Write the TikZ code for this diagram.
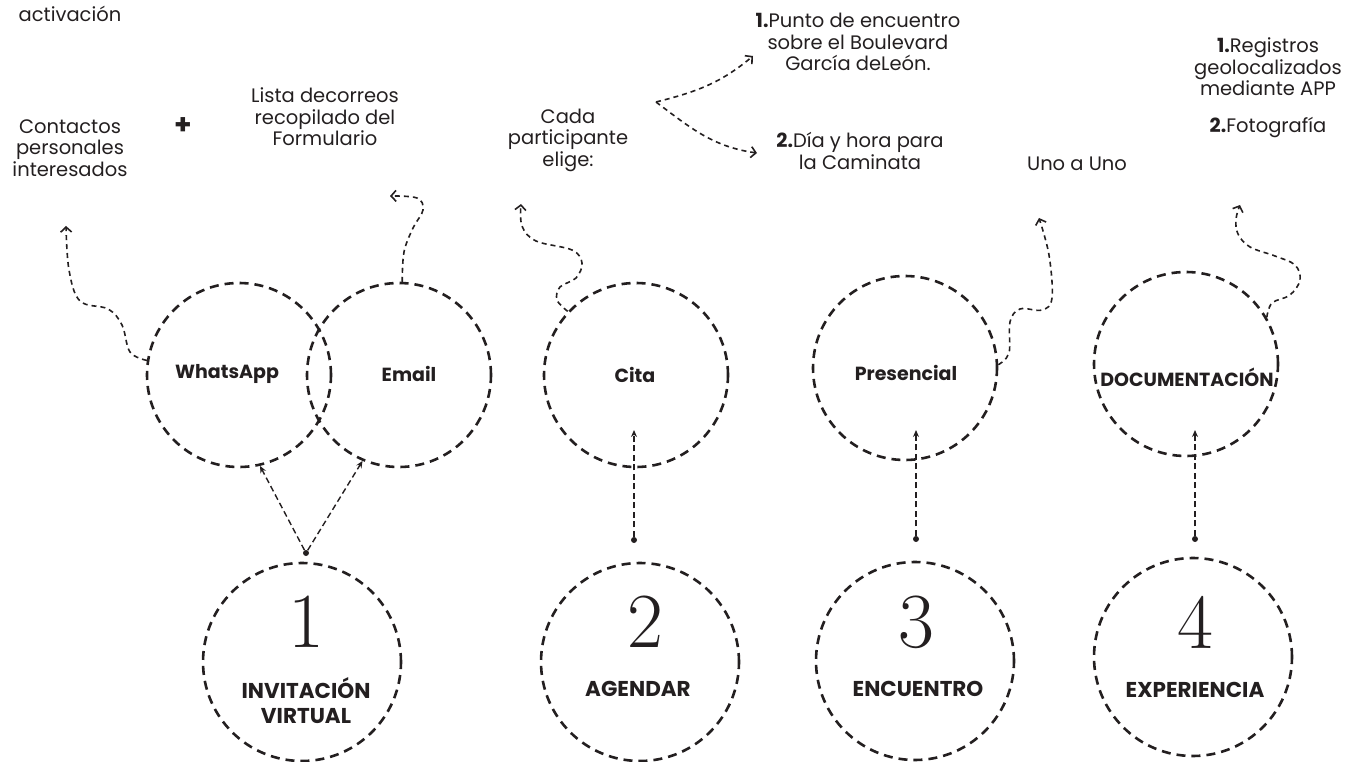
\documentclass[tikz,border=0pt]{standalone}
\usepackage{fontspec}
\setmainfont{Poppins}
\newfontfamily\numfont{Latin Modern Roman}
\usetikzlibrary{arrows.meta}
\definecolor{ink}{HTML}{231F20}

\begin{document}
\begin{tikzpicture}[
    x=1pt, y=-1pt,
    >=Stealth,
    every node/.style={text=ink, font=\fontsize{19.5}{21.5}\selectfont, align=center, inner sep=0pt},
    ring/.style={circle, draw=ink, line width=2.6pt, dash pattern=on 9pt off 6pt, minimum size=184pt, inner sep=0pt},
    stage/.style={ring, minimum size=198pt},
    tag/.style={font=\fontsize{19}{21}\selectfont\bfseries},
    title/.style={font=\fontsize{21.5}{25}\selectfont\bfseries},
    digit/.style={font=\numfont\fontsize{78}{78}\selectfont},
    dot/.style={circle, fill=ink, inner sep=0pt, minimum size=6pt},
    link/.style={draw=ink, line width=1.4pt, dash pattern=on 6pt off 3.5pt, -{Stealth[length=7pt,width=6pt]}},
    wiggle/.style={draw=ink, line width=1.6pt, dash pattern=on 5pt off 4pt, -{Straight Barb[length=5pt,width=11pt]}}
  ]
  \useasboundingbox (0,0) rectangle (1361,762);

  % ---- texts above ----
  \node[anchor=base] (act) at (70,22) {activación};
  \node (cont) at (70,148) {Contactos\\personales\\interesados};
  \node[font=\fontsize{28}{28}\selectfont\bfseries] (plus) at (183,126) {+};
  \node (lista) at (325,117) {Lista decorreos\\recopilado del\\Formulario};
  \node (cada) at (568,140) {Cada\\participante\\elige:};
  \node (punto) at (858,42) {\textbf{1.}Punto de encuentro\\sobre el Boulevard\\García deLeón.};
  \node (dia) at (860,151) {\textbf{2.}Día y hora para\\la Caminata};
  \node (uno) at (1077,164) {Uno a Uno};
  \node (reg) at (1268,67) {\textbf{1.}Registros\\geolocalizados\\mediante APP};
  \node (foto) at (1268,128) {\textbf{2.}Fotografía};

  % ---- channels ----
  \node[ring] (wa) at (239,375) {};
  \node[ring] (em) at (399,375) {};
  \node[ring] (ci) at (636,375) {};
  \node[ring] (pr) at (905,368) {};
  \node[ring] (doc) at (1186,364) {};
  \node[tag] (wa-t) at (227,374) {WhatsApp};
  \node[tag] (em-t) at (409,374) {Email};
  \node[tag] (ci-t) at (635,375) {Cita};
  \node[tag] (pr-t) at (906,373) {Presencial};
  \node[tag] (doc-t) at (1187,377) {DOCUMENTACIÓN};

  % ---- stages ----
  \node[stage] (s1) at (302,662) {};
  \node[stage] (s2) at (640,662) {};
  \node[stage] (s3) at (915,661) {};
  \node[stage] (s4) at (1193,657) {};
  \node[digit] (n1) at (306,622) {1};
  \node[digit] (n2) at (645,622) {2};
  \node[digit] (n3) at (916,622) {3};
  \node[digit] (n4) at (1195,622) {4};
  \node[title] (t1) at (306,701) {INVITACIÓN\\VIRTUAL};
  \node[title] (t2) at (638,689) {AGENDAR};
  \node[title] (t3) at (918,689) {ENCUENTRO};
  \node[title] (t4) at (1195,690) {EXPERIENCIA};

  % ---- stage links ----
  \node[dot] (d1) at (306,553) {};
  \node[dot] (d2) at (634,540) {};
  \node[dot] (d3) at (916,539) {};
  \node[dot] (d4) at (1195,539) {};
  \coordinate (ci-in) at (634,430);
  \coordinate (pr-in) at (916,430);
  \coordinate (doc-in) at (1195,430);
  \draw[link] (d1) -- (wa.-77);
  \draw[link] (d1) -- (em.-113);
  \draw[link] (d2) -- (ci-in);
  \draw[link] (d3) -- (pr-in);
  \draw[link] (d4) -- (doc-in);

  % ---- wiggles to the texts ----
  \coordinate (wa-end) at (66,226);
  \coordinate (em-end) at (390,196);
  \coordinate (ci-end) at (521,204);
  \coordinate (pr-end) at (1039,218);
  \coordinate (doc-end) at (1240,205);
  \draw[wiggle] plot[smooth, tension=0.6] coordinates {(wa.171) (130,352) (122,325) (108,309) (80,301) (69,270) (wa-end)};
  \draw[wiggle] plot[smooth, tension=0.6] coordinates {(em.88) (404,252) (413,228) (423,210) (417,198) (em-end)};
  \draw[wiggle] plot[smooth, tension=0.6] coordinates {(ci.137) (557,300) (560,287) (576,278) (582,263) (572,250) (536,241) (522,226) (ci-end)};
  \draw[wiggle] plot[smooth, tension=0.6] coordinates {(pr.2) (1009,353) (1010,322) (1020,309) (1042,310) (1052,298) (1049,255) (pr-end)};
  \draw[wiggle] plot[smooth, tension=0.6] coordinates {(doc.30) (1272,303) (1290,295) (1300,280) (1295,265) (1275,256) (1250,247) (1238,234) (1236,219) (doc-end)};

  % ---- choices ----
  \coordinate (fork) at (656,102);
  \coordinate (punto-in) at (753,56);
  \coordinate (dia-in) at (757,153);
  \draw[wiggle] (fork) to[out=14, in=-140] (punto-in);
  \draw[wiggle] (fork) to[out=-37, in=172] (dia-in);
\end{tikzpicture}
\end{document}
